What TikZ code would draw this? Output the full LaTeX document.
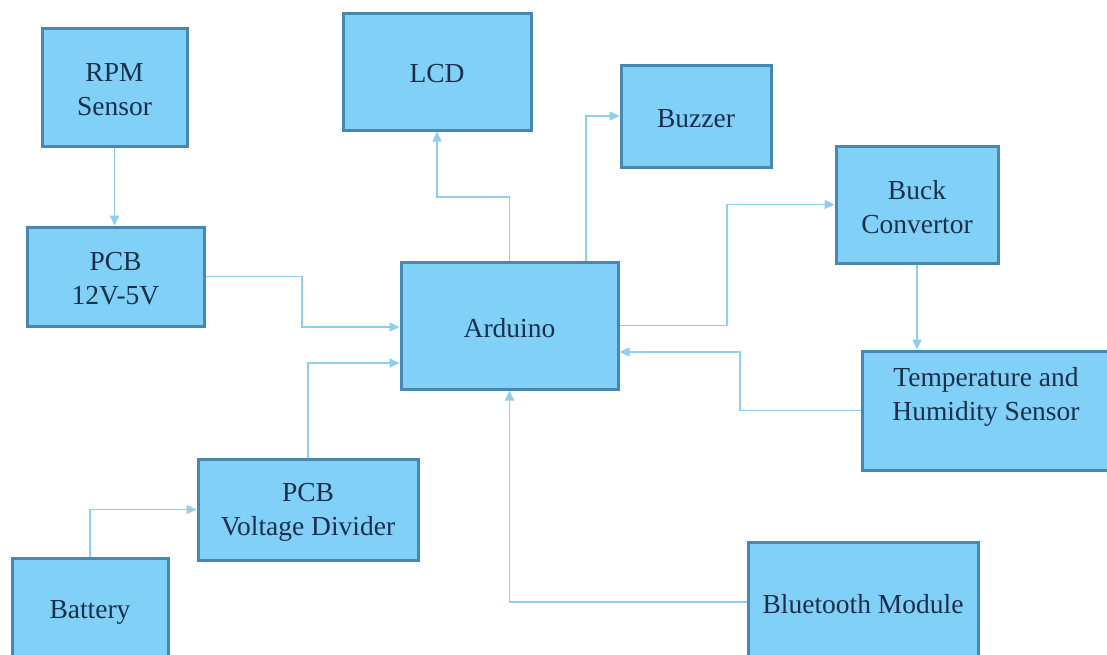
\documentclass[tikz,border=0pt]{standalone}
\usepackage{fontspec}
\setmainfont{Liberation Serif}
\usetikzlibrary{arrows.meta}
\definecolor{boxfill}{HTML}{80D0F8}
\definecolor{boxline}{HTML}{4788B0}
\definecolor{boxtext}{HTML}{1A2F4A}
\definecolor{conncol}{HTML}{8ECFEE}
\tikzset{
  blk/.style={draw=boxline, fill=boxfill, line width=3pt, inner sep=0pt},
  blktxt/.style={text=boxtext, align=center, font=\fontsize{27.5}{34}\selectfont},
  txt/.style={label={[blktxt, yshift=-2.5pt]center:#1}},
  conn/.style={draw=conncol, line width=1.6pt, -{Triangle[length=10pt,width=9pt]}},
}
\begin{document}
\begin{tikzpicture}[x=1pt,y=-1pt]
\useasboundingbox (0,0) rectangle (1107,654);
\fill[white] (0,0) rectangle (1107,654);
\clip (0,0) rectangle (1107,654);

\node[blk, minimum width=145pt, minimum height=118pt, txt={RPM\\Sensor}] (rpm) at (114.5,87) {};
\node[blk, minimum width=177pt, minimum height=99pt, txt={PCB\\12V-5V}] (pcb12) at (115.5,276.5) {};
\node[blk, minimum width=188pt, minimum height=117pt, txt={LCD}] (lcd) at (437,71.5) {};
\node[blk, minimum width=150pt, minimum height=102pt, txt={Buzzer}] (buzzer) at (696,116) {};
\node[blk, minimum width=162pt, minimum height=117pt, txt={Buck\\Convertor}] (buck) at (917,204.5) {};
\node[blk, minimum width=217pt, minimum height=127pt, txt={Arduino}] (ard) at (509.5,325.5) {};
\node[blk, minimum width=248pt, minimum height=119pt,
  label={[blktxt, yshift=14pt]center:Temperature and\\Humidity Sensor}] (temp) at (986,410.5) {};
\node[blk, minimum width=220pt, minimum height=101pt, txt={PCB\\Voltage Divider}] (vd) at (308,509.5) {};
\node[blk, minimum width=156pt, minimum height=104pt, txt={Battery}] (bat) at (90,610) {};
\node[blk, minimum width=230pt, minimum height=120pt, txt={Bluetooth Module}] (bt) at (863,602) {};

\draw[conn] (rpm.south) -- (rpm.south |- pcb12.north);
\draw[conn] (pcb12.east) -| (302,327) -- (ard.west |- 0,327);
\draw[conn] (vd.north) |- (ard.west |- 0,363);
\draw[conn] (bat.north) |- (vd.west);
\draw[conn] (ard.north) -- (ard.north |- 0,197) -| (lcd.south);
\draw[conn] ([xshift=76.5pt]ard.north) |- (buzzer.west);
\draw[conn] (ard.east) -- (727,325.5) |- (buck.west);
\draw[conn] (buck.south) -- (buck.south |- temp.north);
\draw[conn] (temp.west) -| (740,352) -- (ard.east |- 0,352);
\draw[conn] (bt.west) -| (ard.south);
\end{tikzpicture}
\end{document}
